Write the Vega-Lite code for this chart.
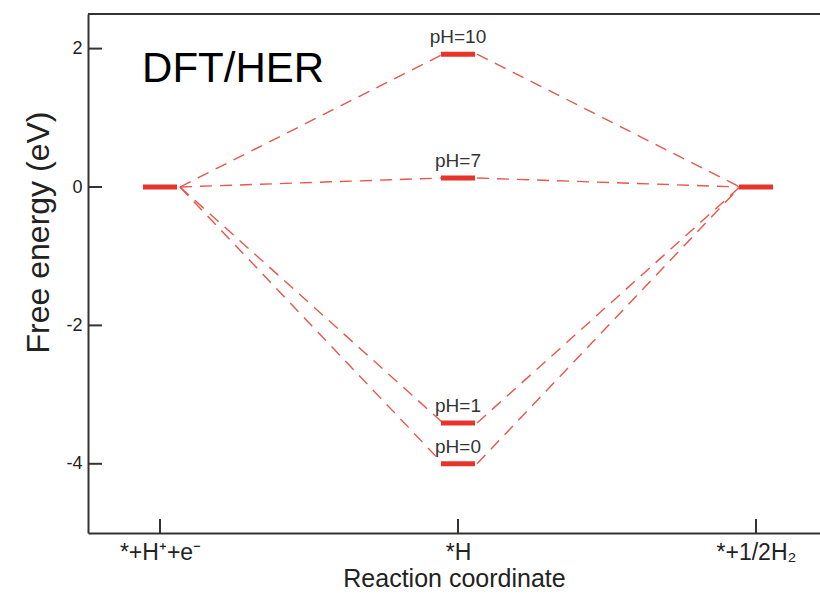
{
  "$schema": "https://vega.github.io/schema/vega-lite/v6.json",
  "width": 732,
  "height": 519,
  "autosize": "none",
  "padding": {"left": 88, "top": 14, "right": 0, "bottom": 67},
  "background": "white",
  "config": {
    "view": {"stroke": null},
    "font": "Liberation Sans",
    "axis": {"grid": false, "ticks": false, "domainColor": "#333333", "domainWidth": 2, "labelColor": "#222222", "titleColor": "#222222", "labelFont": "Liberation Sans", "titleFont": "Liberation Sans", "titleFontWeight": "normal"}
  },
  "datasets": {
    "levels": [
      {"x": 0, "G": 0, "label": ""},
      {"x": 1, "G": 1.92, "label": "pH=10"},
      {"x": 1, "G": 0.13, "label": "pH=7"},
      {"x": 1, "G": -3.41, "label": "pH=1"},
      {"x": 1, "G": -4.0, "label": "pH=0"},
      {"x": 2, "G": 0, "label": ""}
    ],
    "links": [
      {"seg": "pH10a", "i": 0, "x": 0.067, "G": 0},
      {"seg": "pH10a", "i": 1, "x": 0.95, "G": 1.92},
      {"seg": "pH10b", "i": 0, "x": 1.064, "G": 1.92},
      {"seg": "pH10b", "i": 1, "x": 1.946, "G": 0},
      {"seg": "pH7a", "i": 0, "x": 0.067, "G": 0},
      {"seg": "pH7a", "i": 1, "x": 0.95, "G": 0.13},
      {"seg": "pH7b", "i": 0, "x": 1.064, "G": 0.13},
      {"seg": "pH7b", "i": 1, "x": 1.946, "G": 0},
      {"seg": "pH1a", "i": 0, "x": 0.067, "G": 0},
      {"seg": "pH1a", "i": 1, "x": 0.95, "G": -3.41},
      {"seg": "pH1b", "i": 0, "x": 1.064, "G": -3.41},
      {"seg": "pH1b", "i": 1, "x": 1.946, "G": 0},
      {"seg": "pH0a", "i": 0, "x": 0.067, "G": 0},
      {"seg": "pH0a", "i": 1, "x": 0.95, "G": -4.0},
      {"seg": "pH0b", "i": 0, "x": 1.064, "G": -4.0},
      {"seg": "pH0b", "i": 1, "x": 1.946, "G": 0}
    ],
    "yticks": [{"v": -4}, {"v": -2}, {"v": 0}, {"v": 2}],
    "xticks": [{"v": 0}, {"v": 1}, {"v": 2}]
  },
  "layer": [
    {
      "data": {"name": "links"},
      "mark": {"type": "line", "color": "#e8564c", "strokeWidth": 1.4, "strokeDash": [12, 8]},
      "encoding": {
        "x": {
          "field": "x", "type": "quantitative",
          "scale": {"domain": [-0.2416, 2.2148], "nice": false, "zero": false},
          "axis": {
            "values": [0, 1, 2],
            "title": "Reaction coordinate",
            "titleFontSize": 25,
            "titlePadding": 2,
            "labelFontSize": 23,
            "labelPadding": 8,
            "labelExpr": "datum.value == 0 ? '*+H⁺+e⁻' : (datum.value == 1 ? '*H' : '*+1/2H₂')"
          }
        },
        "y": {
          "field": "G", "type": "quantitative",
          "scale": {"domain": [-5, 2.5], "nice": false, "zero": false},
          "axis": {
            "values": [-4, -2, 0, 2],
            "title": "Free energy (eV)",
            "titleFontSize": 32,
            "labelFontSize": 18,
            "labelPadding": 6,
            "labelExpr": "'' + datum.value",
            "titleX": -33,
            "titleY": 218,
            "titleBaseline": "bottom",
            "titleAngle": -90,
            "titleAlign": "center"
          }
        },
        "detail": {"field": "seg"},
        "order": {"field": "i"}
      }
    },
    {
      "data": {"name": "yticks"},
      "mark": {"type": "tick", "orient": "horizontal", "color": "#333333", "size": 28, "thickness": 2, "opacity": 1, "clip": true},
      "encoding": {
        "x": {"datum": -0.2416},
        "y": {"field": "v", "type": "quantitative"}
      }
    },
    {
      "data": {"name": "xticks"},
      "mark": {"type": "tick", "orient": "vertical", "color": "#333333", "size": 28, "thickness": 2, "opacity": 1, "clip": true},
      "encoding": {
        "x": {"field": "v", "type": "quantitative"},
        "y": {"datum": -5}
      }
    },
    {
      "data": {"name": "levels"},
      "mark": {"type": "tick", "orient": "horizontal", "color": "#e8332a", "size": 34, "thickness": 5, "opacity": 1},
      "encoding": {
        "x": {"field": "x", "type": "quantitative"},
        "y": {"field": "G", "type": "quantitative"}
      }
    },
    {
      "data": {"name": "levels"},
      "mark": {"type": "text", "baseline": "alphabetic", "align": "center", "dy": -11, "fontSize": 19, "color": "#333333", "font": "Liberation Sans"},
      "encoding": {
        "x": {"field": "x", "type": "quantitative"},
        "y": {"field": "G", "type": "quantitative"},
        "text": {"field": "label"}
      }
    },
    {
      "data": {"values": [{}]},
      "mark": {"type": "rule", "color": "#333333", "strokeWidth": 2},
      "encoding": {"y": {"datum": 2.5}}
    },
    {
      "data": {"values": [{}]},
      "mark": {"type": "text", "align": "left", "baseline": "alphabetic", "fontSize": 42, "color": "#000000", "font": "Liberation Sans"},
      "encoding": {
        "x": {"datum": -0.06},
        "y": {"datum": 1.52},
        "text": {"value": "DFT/HER"}
      }
    }
  ]
}
